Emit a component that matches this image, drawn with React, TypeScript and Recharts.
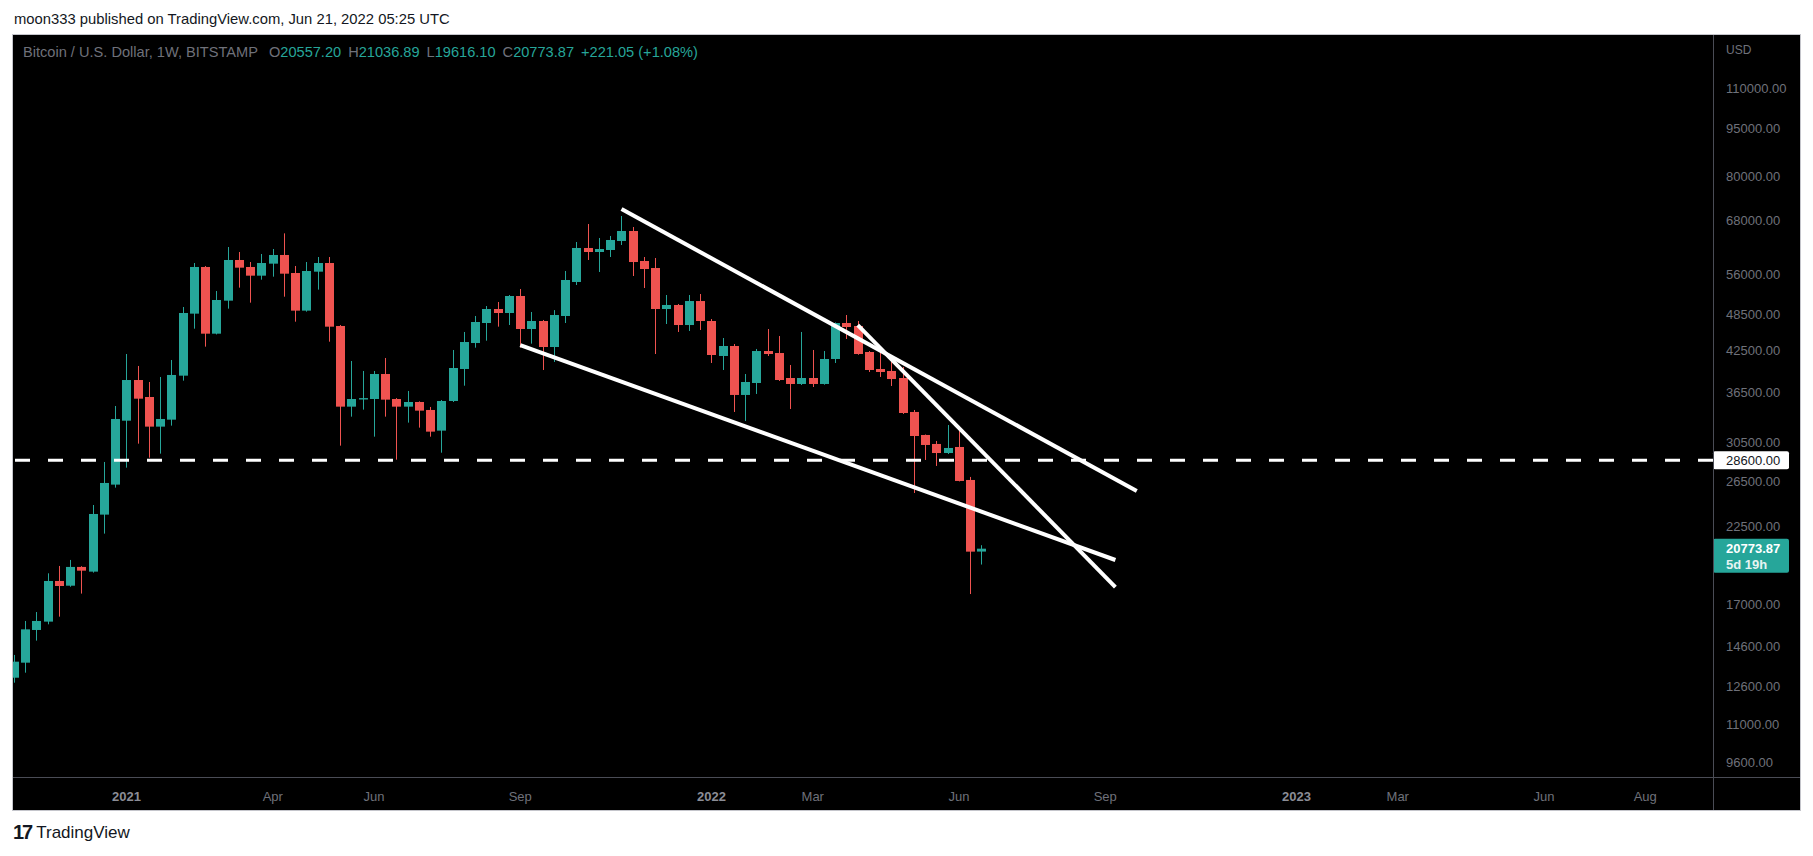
import React from "react";
import { ComposedChart, Bar, XAxis, YAxis, ReferenceLine } from "recharts";

// weekly candles, BTCUSD Bitstamp, week starting Monday
const weeks = [
  "2020-10-26", "2020-11-02", "2020-11-09", "2020-11-16", "2020-11-23", "2020-11-30", "2020-12-07", "2020-12-14",
  "2020-12-21", "2020-12-28", "2021-01-04", "2021-01-11", "2021-01-18", "2021-01-25", "2021-02-01", "2021-02-08",
  "2021-02-15", "2021-02-22", "2021-03-01", "2021-03-08", "2021-03-15", "2021-03-22", "2021-03-29", "2021-04-05",
  "2021-04-12", "2021-04-19", "2021-04-26", "2021-05-03", "2021-05-10", "2021-05-17", "2021-05-24", "2021-05-31",
  "2021-06-07", "2021-06-14", "2021-06-21", "2021-06-28", "2021-07-05", "2021-07-12", "2021-07-19", "2021-07-26",
  "2021-08-02", "2021-08-09", "2021-08-16", "2021-08-23", "2021-08-30", "2021-09-06", "2021-09-13", "2021-09-20",
  "2021-09-27", "2021-10-04", "2021-10-11", "2021-10-18", "2021-10-25", "2021-11-01", "2021-11-08", "2021-11-15",
  "2021-11-22", "2021-11-29", "2021-12-06", "2021-12-13", "2021-12-20", "2021-12-27", "2022-01-03", "2022-01-10",
  "2022-01-17", "2022-01-24", "2022-01-31", "2022-02-07", "2022-02-14", "2022-02-21", "2022-02-28", "2022-03-07",
  "2022-03-14", "2022-03-21", "2022-03-28", "2022-04-04", "2022-04-11", "2022-04-18", "2022-04-25", "2022-05-02",
  "2022-05-09", "2022-05-16", "2022-05-23", "2022-05-30", "2022-06-06", "2022-06-13", "2022-06-20",
];

const opens = [
  13025, 13753, 15480, 15955, 18483, 18170, 19446, 19118, 23498, 26193, 33010, 38243, 35964, 32307, 33132, 38850,
  48621, 57565, 45223, 50961, 59040, 57565, 55784, 58261, 60118, 56323, 49153, 56597, 58398, 46499, 34729, 35640,
  35705, 39082, 35705, 34729, 35320, 34314, 31843, 35446, 39800, 43720, 47003, 49446, 48737, 51828, 45994, 47345,
  43094, 48212, 54523, 61660, 60773, 61215, 63238, 65570, 58826, 57350, 49446, 50170, 46663, 50893, 47345, 41716,
  43251, 36230, 37833, 42473, 42167, 38522, 37697, 38522, 37697, 41265, 47003, 46499, 42323, 39800, 39513, 38522,
  34067, 31345, 30343, 29366, 30013, 26637, 20557.2,
];

const highs = [
  14144, 15993, 16519, 19002, 19514, 19944, 19500, 24331, 28431, 34811, 42016, 40235, 37970, 38665, 41115, 49808,
  58398, 57771, 52776, 61880, 60773, 58610, 60336, 61435, 65015, 57771, 58610, 59681, 59681, 46663, 40965, 39513,
  39513, 41416, 35820, 36755, 35400, 34690, 35570, 42630, 45503, 48212, 49985, 50715, 52015, 53158, 48914, 47520,
  49250, 56735, 63010, 67250, 63930, 64400, 69225, 66524, 59681, 59470, 52015, 50350, 52015, 52203, 47687, 44520,
  43565, 39082, 42787, 45994, 44842, 40378, 45503, 42630, 42473, 47100, 48383, 47345, 42473, 43094, 40822, 40091,
  34314, 31400, 30674, 32498, 31802, 26930, 21036.89,
];

const lows = [
  12793, 13264, 14895, 15800, 16245, 18100, 17658, 19050, 21936, 25907, 27852, 30376, 28875, 29298, 32423, 38154,
  46048, 43148, 45100, 49508, 53418, 50593, 54979, 55580, 51697, 47229, 48976, 53035, 43933, 30158, 33494, 34354,
  31154, 33494, 28670, 32778, 32190, 31154, 29400, 35320, 37465, 42992, 44090, 46384, 46663, 42992, 43620, 39655,
  40822, 47003, 53930, 59040, 56530, 59681, 62330, 55716, 53350, 42016, 46834, 45503, 45667, 45831, 40672, 39655,
  34067, 32975, 36360, 41716, 38108, 34436, 37560, 37288, 37600, 40672, 44362, 41900, 39369, 38665, 37424, 33822,
  25409, 28636, 28022, 29260, 26500, 17630, 19616.1,
];

const closes = [
  13803, 15516, 15993, 18483, 18150, 19446, 19186, 23553, 26350, 33214, 38243, 35746, 32307, 33214, 38946, 48737,
  57565, 45223, 51084, 59040, 57423, 55784, 58398, 60118, 56187, 49153, 56735, 58398, 46384, 34729, 35705, 35820,
  39082, 35620, 34729, 35320, 34231, 31727, 35446, 39942, 43879, 47174, 49446, 48737, 51828, 45994, 47345, 43094,
  48383, 54918, 61660, 60773, 61435, 63470, 65570, 58610, 57143, 49446, 50170, 46663, 50893, 47345, 41866, 43251,
  36230, 37970, 42473, 42016, 38243, 37697, 38522, 37697, 41265, 47003, 46328, 42016, 39655, 39369, 38380, 33940,
  31230, 30233, 29366, 29905, 26541, 20552.82, 20773.87,
];

// time scale labels, placed on the first weekly bar of the month (bar index)
const timeTicks = [10, 23, 32, 45, 62, 71, 84, 97, 114, 123, 136, 145];
const timeLabels = ["2021", "Apr", "Jun", "Sep", "2022", "Mar", "Jun", "Sep", "2023", "Mar", "Jun", "Aug"];

const priceTicks = [9600, 11000, 12600, 14600, 17000, 22500, 26500, 30500, 36500, 42500, 48500, 56000, 68000, 80000, 95000, 110000];

// drawings: [barIndex, price]
const upperLine = [[54.0, 71000], [99.8, 25600]];
const lowerLine = [[45.0, 43400], [97.9, 19940]];
const steepLine = [[75.0, 46660], [97.9, 18080]];
const supportLevel = 28600;

const GREEN = "#26a69a";
const RED = "#ef5350";
const AXIS_TEXT = "#6f717a";
const FONT = "'Liberation Sans', Arial, sans-serif";

const data = weeks.map((w, i) => ({
  i,
  week: w,
  open: opens[i],
  high: highs[i],
  low: lows[i],
  close: closes[i],
  range: [lows[i], highs[i]],
}));

const last = data[data.length - 1];
const prev = data[data.length - 2];
const change = last.close - prev.close;

const Candle = (props: any) => {
  const { x, y, width, height, payload } = props;
  if (x == null || y == null || !payload) return null;
  const top = Math.min(y, y + height);
  const h = Math.abs(height);
  const lh = Math.log(payload.high);
  const ll = Math.log(payload.low);
  const span = lh - ll || 1;
  const py = (v: number) => top + (h * (lh - Math.log(v))) / span;
  const cx = Math.round(x + width / 2) + 0.5;
  const up = payload.close >= payload.open;
  const color = up ? GREEN : RED;
  const bTop = py(Math.max(payload.open, payload.close));
  const bBot = py(Math.min(payload.open, payload.close));
  return (
    <g>
      <line x1={cx} x2={cx} y1={top} y2={top + h} stroke={color} strokeWidth={1} />
      <rect x={cx - 4.5} y={bTop} width={9} height={Math.max(1, bBot - bTop)} fill={color} />
    </g>
  );
};

const PriceTick = (props: any) => {
  const { x, y, payload } = props;
  return (
    <text x={x} y={y} fill={AXIS_TEXT} fontSize={13} fontFamily={FONT} textAnchor="start" dominantBaseline="central">
      {Number(payload.value).toFixed(2)}
    </text>
  );
};

const TimeTick = (props: any) => {
  const { x, y, payload } = props;
  const idx = timeTicks.indexOf(payload.value);
  const label = timeLabels[idx];
  const isYear = /^\d{4}$/.test(label);
  return (
    <text
      x={x}
      y={y + 17}
      fill={isYear ? "#8b8d96" : AXIS_TEXT}
      fontSize={13}
      fontWeight={isYear ? 700 : 400}
      fontFamily={FONT}
      textAnchor="middle"
      dominantBaseline="central"
    >
      {label}
    </text>
  );
};

const LevelLabel = (props: any) => {
  const { viewBox } = props;
  if (!viewBox) return null;
  const lx = viewBox.x + viewBox.width;
  return (
    <g>
      <rect x={lx} y={viewBox.y - 9} width={76} height={18} rx={2} fill="#ffffff" />
      <text x={lx + 13} y={viewBox.y} fill="#131722" fontSize={13} fontFamily={FONT} dominantBaseline="central">
        {supportLevel.toFixed(2)}
      </text>
    </g>
  );
};

const LastLabel = (props: any) => {
  const { viewBox } = props;
  if (!viewBox) return null;
  const lx = viewBox.x + viewBox.width;
  return (
    <g>
      <rect x={lx} y={viewBox.y - 10} width={76} height={34} rx={2} fill={GREEN} />
      <text x={lx + 13} y={viewBox.y} fill="#ffffff" fontSize={13} fontWeight={700} fontFamily={FONT} dominantBaseline="central">
        {last.close.toFixed(2)}
      </text>
      <text x={lx + 13} y={viewBox.y + 16} fill="#e6f4f2" fontSize={13} fontWeight={700} fontFamily={FONT} dominantBaseline="central">
        5d 19h
      </text>
    </g>
  );
};

const seg = (l: number[][]) => [
  { x: l[0][0], y: l[0][1] },
  { x: l[1][0], y: l[1][1] },
];

export default function App() {
  const ohlc = [
    ["O", last.open],
    ["H", last.high],
    ["L", last.low],
    ["C", last.close],
  ];
  const sign = change >= 0 ? "+" : "";
  return (
    <div style={{ position: "absolute", left: 0, top: 0, width: 1813, height: 856, background: "#ffffff", fontFamily: FONT }}>
      <div style={{ position: "absolute", left: 14, top: 11, fontSize: 14.8, color: "#131722", whiteSpace: "nowrap" }}>
        moon333 published on TradingView.com, Jun 21, 2022 05:25 UTC
      </div>
      <div
        style={{
          position: "absolute",
          left: 12,
          top: 34,
          width: 1789,
          height: 777,
          boxSizing: "border-box",
          border: "1px solid #c4c5cb",
          background: "#000000",
        }}
      />
      <div style={{ position: "absolute", left: 13, top: 35 }}>
        <ComposedChart width={1787} height={775} data={data} margin={{ top: 0, right: 0, bottom: 0, left: 0 }}>
          <XAxis
            dataKey="i"
            type="number"
            domain={[-0.09, 151.02]}
            allowDataOverflow
            ticks={timeTicks}
            tick={<TimeTick />}
            tickLine={false}
            axisLine={false}
            tickSize={0}
            height={33}
            interval={0}
          />
          <YAxis
            orientation="right"
            scale="log"
            domain={[9094, 133254]}
            allowDataOverflow
            ticks={priceTicks}
            tick={<PriceTick />}
            tickLine={false}
            axisLine={false}
            tickSize={0}
            tickMargin={13}
            width={87}
            interval={0}
          />
          <Bar dataKey="range" barSize={9} shape={<Candle />} isAnimationActive={false} />
          <ReferenceLine
            y={supportLevel}
            stroke="#ffffff"
            strokeWidth={3}
            strokeDasharray="15 18"
            label={<LevelLabel />}
          />
          <ReferenceLine y={last.close} stroke="#000000" strokeOpacity={0} label={<LastLabel />} />
          <ReferenceLine segment={seg(upperLine)} stroke="#ffffff" strokeWidth={4} ifOverflow="visible" />
          <ReferenceLine segment={seg(lowerLine)} stroke="#ffffff" strokeWidth={4} ifOverflow="visible" />
          <ReferenceLine segment={seg(steepLine)} stroke="#ffffff" strokeWidth={4} ifOverflow="visible" />
        </ComposedChart>
      </div>
      {/* pane separators */}
      <div style={{ position: "absolute", left: 1713, top: 35, width: 1, height: 775, background: "#4a4c55" }} />
      <div style={{ position: "absolute", left: 13, top: 777, width: 1787, height: 1, background: "#4a4c55" }} />
      <div style={{ position: "absolute", left: 1726, top: 43, fontSize: 12, color: AXIS_TEXT }}>USD</div>
      <div style={{ position: "absolute", left: 23, top: 44, fontSize: 14.6, color: "#6f717a", whiteSpace: "nowrap" }}>
        <span style={{ marginRight: 11 }}>Bitcoin / U.S. Dollar, 1W, BITSTAMP</span>
        {ohlc.map(([k, v]) => (
          <span key={k as string} style={{ marginRight: 7 }}>
            {k}
            <span style={{ color: GREEN }}>{(v as number).toFixed(2)}</span>
          </span>
        ))}
        <span style={{ color: GREEN }}>
          {sign}
          {change.toFixed(2)} ({sign}
          {((change / prev.close) * 100).toFixed(2)}%)
        </span>
      </div>
      <div style={{ position: "absolute", left: 13, top: 821, display: "flex", alignItems: "center", color: "#131722" }}>
        <span style={{ fontSize: 20, fontWeight: 900, letterSpacing: -2, marginRight: 5 }}>17</span>
        <span style={{ fontSize: 17 }}>TradingView</span>
      </div>
    </div>
  );
}
